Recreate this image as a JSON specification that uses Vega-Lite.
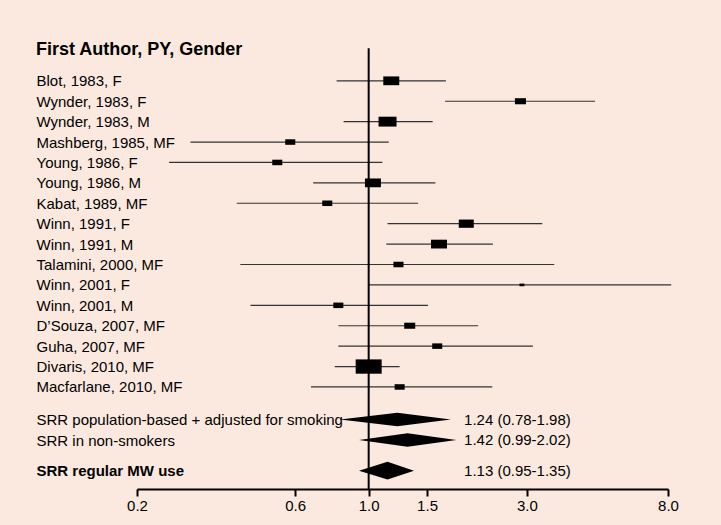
{
  "$schema": "https://vega.github.io/schema/vega-lite/v6.json",
  "description": "Forest plot: summary relative risk of head and neck cancer with mouthwash use, by study.",
  "width": 531,
  "height": 449,
  "autosize": "none",
  "padding": {"left": 137, "top": 40, "right": 53, "bottom": 36},
  "background": "#fbe9df",
  "config": {
    "view": {"stroke": null},
    "font": "Liberation Sans",
    "axis": {"labelOverlap": false, "labelBound": false}
  },
  "title": {
    "text": "First Author, PY, Gender",
    "anchor": "start",
    "frame": "bounds",
    "font": "Liberation Sans",
    "fontSize": 18,
    "fontWeight": "bold",
    "color": "#000",
    "baseline": "alphabetic",
    "offset": 0,
    "dy": 33
  },
  "datasets": {
    "studies": [
      {"name": "Blot, 1983, F", "row": 1, "est": 1.17, "lo": 0.80, "hi": 1.71, "weight": 8.6},
      {"name": "Wynder, 1983, F", "row": 2, "est": 2.87, "lo": 1.70, "hi": 4.82, "weight": 4.1},
      {"name": "Wynder, 1983, M", "row": 3, "est": 1.14, "lo": 0.84, "hi": 1.56, "weight": 10.9},
      {"name": "Mashberg, 1985, MF", "row": 4, "est": 0.58, "lo": 0.29, "hi": 1.15, "weight": 3.4},
      {"name": "Young, 1986, F", "row": 5, "est": 0.53, "lo": 0.25, "hi": 1.10, "weight": 3.4},
      {"name": "Young, 1986, M", "row": 6, "est": 1.03, "lo": 0.68, "hi": 1.59, "weight": 8.6},
      {"name": "Kabat, 1989, MF", "row": 7, "est": 0.75, "lo": 0.40, "hi": 1.41, "weight": 3.4},
      {"name": "Winn, 1991, F", "row": 8, "est": 1.97, "lo": 1.14, "hi": 3.34, "weight": 7.6},
      {"name": "Winn, 1991, M", "row": 9, "est": 1.63, "lo": 1.13, "hi": 2.37, "weight": 8.6},
      {"name": "Talamini, 2000, MF", "row": 10, "est": 1.23, "lo": 0.41, "hi": 3.63, "weight": 3.4},
      {"name": "Winn, 2001, F", "row": 11, "est": 2.90, "lo": 1.00, "hi": 8.18, "weight": 0.8},
      {"name": "Winn, 2001, M", "row": 12, "est": 0.81, "lo": 0.44, "hi": 1.51, "weight": 3.4},
      {"name": "D’Souza, 2007, MF", "row": 13, "est": 1.33, "lo": 0.81, "hi": 2.14, "weight": 4.1},
      {"name": "Guha, 2007, MF", "row": 14, "est": 1.61, "lo": 0.81, "hi": 3.13, "weight": 3.4},
      {"name": "Divaris, 2010, MF", "row": 15, "est": 1.00, "lo": 0.79, "hi": 1.24, "weight": 22.8},
      {"name": "Macfarlane, 2010, MF", "row": 16, "est": 1.24, "lo": 0.67, "hi": 2.36, "weight": 3.4}
    ],
    "pooled": [
      {"name": "SRR population-based + adjusted for smoking", "row": 17.6, "est": 1.22, "lo": 0.82, "hi": 1.77, "ci": "1.24 (0.78-1.98)"},
      {"name": "SRR in non-smokers", "row": 18.6, "est": 1.31, "lo": 0.935, "hi": 1.84, "ci": "1.42 (0.99-2.02)"},
      {"name": "SRR regular MW use", "row": 20.1, "est": 1.14, "lo": 0.935, "hi": 1.37, "ci": "1.13 (0.95-1.35)"}
    ]
  },
  "layer": [
    {
      "data": {"name": "studies"},
      "mark": {"type": "rule", "color": "#333", "strokeWidth": 1.2},
      "encoding": {
        "x": {
          "field": "lo",
          "type": "quantitative",
          "scale": {"type": "log", "domain": [0.2, 8], "nice": false, "zero": false},
          "axis": {
            "values": [0.2, 0.6, 1, 1.5, 3, 8],
            "tickCount": 20,
            "format": ".1f",
            "title": null,
            "grid": false,
            "labelFlush": false,
            "labelFont": "Liberation Sans",
            "labelFontSize": 15,
            "labelColor": "#000",
            "labelPadding": 2,
            "domainColor": "#000",
            "domainWidth": 2,
            "tickColor": "#000",
            "tickWidth": 2,
            "tickSize": 7
          }
        },
        "x2": {"field": "hi"},
        "y": {
          "field": "row",
          "type": "quantitative",
          "scale": {"domain": [-1, 21], "reverse": true, "nice": false, "zero": false},
          "axis": {
            "values": [1, 2, 3, 4, 5, 6, 7, 8, 9, 10, 11, 12, 13, 14, 15, 16, 17.6, 18.6, 20.1],
            "tickCount": 40,
            "labelExpr": "{'1': 'Blot, 1983, F', '2': 'Wynder, 1983, F', '3': 'Wynder, 1983, M', '4': 'Mashberg, 1985, MF', '5': 'Young, 1986, F', '6': 'Young, 1986, M', '7': 'Kabat, 1989, MF', '8': 'Winn, 1991, F', '9': 'Winn, 1991, M', '10': 'Talamini, 2000, MF', '11': 'Winn, 2001, F', '12': 'Winn, 2001, M', '13': 'D’Souza, 2007, MF', '14': 'Guha, 2007, MF', '15': 'Divaris, 2010, MF', '16': 'Macfarlane, 2010, MF', '17.6': 'SRR population-based + adjusted for smoking', '18.6': 'SRR in non-smokers', '20.1': 'SRR regular MW use'}['' + datum.value]",
            "title": null,
            "grid": false,
            "domain": false,
            "ticks": false,
            "tickSize": 0,
            "labelAlign": "left",
            "labelBaseline": "middle",
            "labelPadding": 101,
            "labelFont": "Liberation Sans",
            "labelFontSize": 15,
            "labelColor": "#000",
            "labelLimit": 500,
            "labelBound": false,
            "labelOverlap": false,
            "labelFontWeight": {"condition": {"test": "datum.value == 20.1", "value": "bold"}, "value": "normal"}
          }
        }
      }
    },
    {
      "data": {"values": [{}]},
      "mark": {"type": "rule", "color": "#000", "strokeWidth": 2},
      "encoding": {
        "x": {"datum": 1},
        "y": {"datum": -0.6},
        "y2": {"datum": 21}
      }
    },
    {
      "data": {"name": "studies"},
      "mark": {"type": "point", "shape": "M-1,-0.55H1V0.55H-1Z", "filled": true, "color": "#000", "opacity": 1},
      "encoding": {
        "x": {"field": "est", "type": "quantitative"},
        "y": {"field": "row", "type": "quantitative"},
        "size": {
          "field": "weight",
          "type": "quantitative",
          "scale": {"domain": [0, 22.8], "range": [0, 676], "zero": true},
          "legend": null
        }
      }
    },
    {
      "data": {"name": "pooled"},
      "transform": [
        {"fold": ["lo", "est", "hi"], "as": ["k", "v"]},
        {"calculate": "datum.k == 'est' ? datum.row - (datum.row > 20 ? 0.44 : 0.33) : datum.row", "as": "top"},
        {"calculate": "datum.k == 'est' ? datum.row + (datum.row > 20 ? 0.44 : 0.33) : datum.row", "as": "bot"}
      ],
      "mark": {"type": "area", "color": "#000", "opacity": 1, "orient": "vertical"},
      "encoding": {
        "x": {"field": "v", "type": "quantitative"},
        "y": {"field": "top", "type": "quantitative"},
        "y2": {"field": "bot"},
        "detail": {"field": "name"}
      }
    },
    {
      "data": {"name": "pooled"},
      "mark": {"type": "text", "align": "left", "baseline": "middle", "font": "Liberation Sans", "fontSize": 15, "color": "#000"},
      "encoding": {
        "x": {"datum": 1.94},
        "y": {"field": "row", "type": "quantitative"},
        "text": {"field": "ci"}
      }
    }
  ]
}
